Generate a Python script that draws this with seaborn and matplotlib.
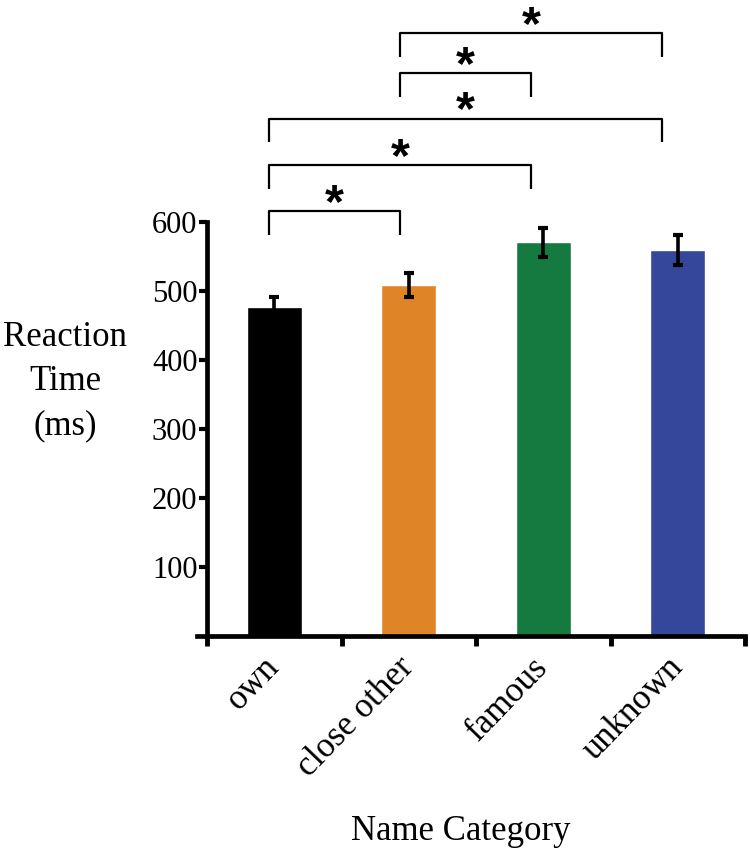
import numpy as np
import pandas as pd
import matplotlib
matplotlib.use("Agg")
import matplotlib.pyplot as plt
import seaborn as sns

sns.set_theme(style="white")
plt.rcParams['font.family'] = ['Liberation Serif', 'DejaVu Serif']
plt.rcParams['text.color'] = 'black'
plt.rcParams['axes.labelcolor'] = 'black'
plt.rcParams['xtick.color'] = 'black'
plt.rcParams['ytick.color'] = 'black'

# data
categories = ['own', 'close other', 'famous', 'unknown']
rt_means = [477, 508, 570, 559]
rt_sem = [14.5, 17, 21, 22]
bar_colors = ['#000000', '#E08428', '#157A3F', '#34479B']
y_ticks = [100, 200, 300, 400, 500, 600]

# significance brackets (pairs of category index) and their heights
sig_pairs = [(0, 1), (0, 2), (0, 3), (1, 2), (1, 3)]
sig_levels = [615, 682, 749, 815, 873]

df = pd.DataFrame({'category': categories, 'rt': rt_means})

fig = plt.figure(figsize=(7.5, 8.5), dpi=100)
ax = fig.add_axes([0.2627, 0.2518, 0.7307, 0.7482])

sns.barplot(data=df, x='category', y='rt', hue='category', palette=bar_colors,
            width=0.41, errorbar=None, legend=False, saturation=1, ax=ax)
ax.errorbar(range(len(categories)), rt_means, yerr=rt_sem, fmt='none',
            ecolor='black', elinewidth=2.6, capsize=3.6, capthick=3, zorder=5)

# brackets + stars
def bx(i):
    return i * 0.975 - 0.04

leg = 34
for (a, b), lev in zip(sig_pairs, sig_levels):
    xa, xb = bx(a), bx(b)
    ax.plot([xa, xa, xb, xb], [lev - leg, lev, lev, lev - leg], color='black',
            lw=1.6, solid_capstyle='butt', clip_on=False)
    ax.annotate('*', xy=((xa + xb) / 2, lev), xytext=(0, -4), textcoords='offset points',
                ha='center', va='baseline', fontsize=35, fontweight='bold',
                family=['Liberation Sans', 'DejaVu Sans'], annotation_clip=False)

# axes styling (GraphPad-like)
ax.set_xlim(-0.575, 3.5)
ax.set_ylim(0, 921)
sns.despine(ax=ax)
ax.spines['left'].set_position(('data', -0.5))
ax.spines['left'].set_bounds(0, 600)
for s in ['left', 'bottom']:
    ax.spines[s].set_linewidth(3.4)
    ax.spines[s].set_color('black')

ax.set_yticks(y_ticks)
ax.set_yticklabels([str(t) for t in y_ticks], fontsize=22)
ax.tick_params(axis='y', which='major', left=True, direction='out', length=6, width=3,
               color='black', pad=1)

# ticks sit between the bars, labels under the bar centres
ax.set_xticks(np.arange(-0.5, len(categories), 1.0))
ax.set_xticklabels([])
ax.tick_params(axis='x', which='major', bottom=True, direction='out', length=7, width=3.5,
               color='black')
ax.set_xticks(range(len(categories)), minor=True)
ax.set_xticklabels(categories, minor=True, rotation=46, ha='right', va='center',
                   rotation_mode='anchor', fontsize=25)
ax.tick_params(axis='x', which='minor', bottom=True, length=0, pad=19)

ax.set_ylabel('Reaction\nTime\n(ms)', rotation=0, fontsize=25, ha='center', va='center',
              linespacing=1.45)
ax.yaxis.set_label_coords(-0.241, 0.40)
ax.set_xlabel('Name Category', fontsize=25, va='top')
ax.xaxis.set_label_coords(0.482, -0.281)

fig.savefig('out.png', dpi=100, facecolor='white')
